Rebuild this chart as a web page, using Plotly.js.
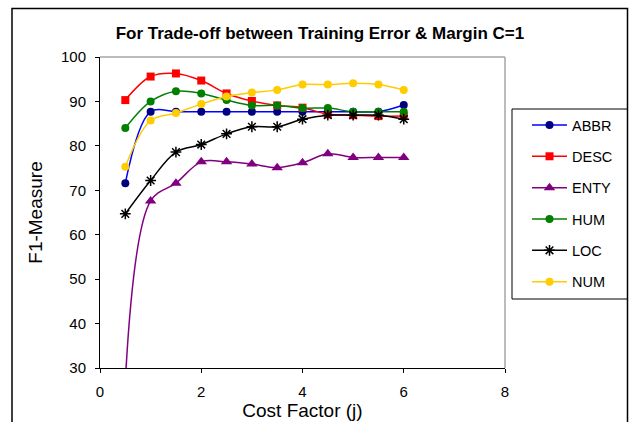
<!DOCTYPE html>
<html>
<head>
<meta charset="utf-8">
<script src="https://cdn.plot.ly/plotly-3.0.1.min.js"></script>
<style>
  html, body { margin: 0; padding: 0; background: #ffffff; }
  #chart { width: 631px; height: 422px; }
</style>
</head>
<body>
<div id="chart"></div>
<script>
// Cost factor j values shared by every class
const costFactor = [0.5, 1, 1.5, 2, 2.5, 3, 3.5, 4, 4.5, 5, 5.5, 6];

// F1-measure per question class
const abbr = [71.6, 87.7, 87.7, 87.7, 87.7, 87.7, 87.7, 87.7, 87.7, 87.7, 87.7, 89.2];
const desc = [90.3, 95.6, 96.3, 94.7, 91.8, 90.1, 89.1, 88.6, 87.1, 86.9, 86.7, 86.7];
const enty = [27.0, 67.6, 71.6, 76.4, 76.4, 75.9, 75.1, 76.2, 78.2, 77.4, 77.4, 77.4];
const hum  = [84.0, 90.0, 92.3, 91.8, 90.3, 89.1, 89.1, 88.5, 88.5, 87.7, 87.7, 87.7];
const loc  = [64.7, 72.2, 78.6, 80.3, 82.7, 84.3, 84.3, 86.0, 86.9, 86.9, 86.9, 86.0];
const num  = [75.3, 85.7, 87.4, 89.4, 91.1, 92.0, 92.6, 93.8, 93.8, 94.1, 93.8, 92.6];

const classNames = ['ABBR', 'DESC', 'ENTY', 'HUM', 'LOC', 'NUM'];
const xTicks = [0, 2, 4, 6, 8];
const yTicks = [30, 40, 50, 60, 70, 80, 90, 100];

const FONT = 'Liberation Sans, Arial, Helvetica, sans-serif';

const styles = [
  { line: '#0000ff', marker: '#000080', symbol: 'circle', size: 8 },
  { line: '#ff0000', marker: '#ff0000', symbol: 'square', size: 8 },
  { line: '#800080', marker: '#800080', symbol: 'triangle-up', size: 10 },
  { line: '#008000', marker: '#008000', symbol: 'circle', size: 8 },
  { line: '#000000', marker: '#000000', symbol: 'asterisk-open', size: 9 },
  { line: '#ffcc00', marker: '#ffcc00', symbol: 'circle', size: 8 }
];

const series = [abbr, desc, enty, hum, loc, num];

const traces = series.map((vals, i) => ({
  type: 'scatter',
  mode: 'lines+markers',
  name: classNames[i],
  legendgroup: classNames[i],
  x: costFactor,
  y: vals,
  line: { color: styles[i].line, width: 1.5, shape: 'spline', smoothing: 1 },
  marker: {
    color: styles[i].marker,
    symbol: styles[i].symbol,
    size: styles[i].size,
    line: { color: styles[i].marker, width: styles[i].symbol === 'asterisk-open' ? 1.5 : 0 }
  }
}));

const L = 100, R = 505, T = 57, B = 368;
const W = R - L, H = B - T;
const px = v => (v - L) / W;
const py = v => (B - v) / H;

const layout = {
  width: 631,
  height: 422,
  margin: { l: L, r: 631 - R, t: T, b: 422 - B, pad: 0 },
  paper_bgcolor: '#ffffff',
  plot_bgcolor: '#ffffff',
  font: { family: FONT, color: '#000000', size: 15 },
  title: {
    text: '<b>For Trade-off between Training Error & Margin C=1</b>',
    font: { family: FONT, size: 17, color: '#000000' },
    x: 0.507, xanchor: 'center',
    y: 1 - 33 / 422, yanchor: 'middle'
  },
  xaxis: {
    range: [0, 8],
    tickvals: xTicks,
    ticktext: xTicks.map(String),
    ticks: 'outside', ticklen: 4, tickwidth: 1, tickcolor: '#000000',
    showline: true, linecolor: '#000000', linewidth: 1,
    showgrid: false, zeroline: false,
    tickfont: { family: FONT, size: 15 },
    ticklabelstandoff: 6,
    title: { text: 'Cost Factor (j)', font: { family: FONT, size: 19 }, standoff: 3 }
  },
  yaxis: {
    range: [30, 100],
    tickvals: yTicks,
    ticktext: yTicks.map(String),
    ticks: 'outside', ticklen: 4, tickwidth: 1, tickcolor: '#000000',
    showline: true, linecolor: '#000000', linewidth: 1,
    showgrid: false, zeroline: false,
    tickfont: { family: FONT, size: 15 },
    ticklabelstandoff: 6,
    title: { text: 'F1-Measure', font: { family: FONT, size: 19 }, standoff: 13 }
  },
  showlegend: true,
  legend: {
    x: px(527), xanchor: 'left',
    y: py(109), yanchor: 'top',
    bgcolor: 'rgba(0,0,0,0)',
    borderwidth: 0,
    font: { family: FONT, size: 14.5, color: '#000000' },
    tracegroupgap: 9.5,
    itemwidth: 35
  },
  shapes: [
    // outer chart frame (open at the bottom edge)
    { type: 'rect', xref: 'paper', yref: 'paper',
      x0: px(12), x1: px(627.5), y0: py(440), y1: py(8.5),
      line: { color: '#000000', width: 1.5 }, fillcolor: 'rgba(0,0,0,0)', layer: 'below' },
    // grey top and right edges of the plot area
    { type: 'line', xref: 'paper', yref: 'paper', x0: 0, x1: 1, y0: 1, y1: 1,
      line: { color: '#a6a6a6', width: 1.5 }, layer: 'below' },
    { type: 'line', xref: 'paper', yref: 'paper', x0: 1, x1: 1, y0: 0, y1: 1,
      line: { color: '#a6a6a6', width: 1.5 }, layer: 'below' },
    // legend box
    { type: 'rect', xref: 'paper', yref: 'paper',
      x0: px(512), x1: px(627.5), y0: py(299), y1: py(109),
      line: { color: '#000000', width: 1 }, fillcolor: 'rgba(0,0,0,0)', layer: 'below' }
  ]
};

Plotly.newPlot('chart', traces, layout, { displayModeBar: false, staticPlot: true });
</script>
</body>
</html>
